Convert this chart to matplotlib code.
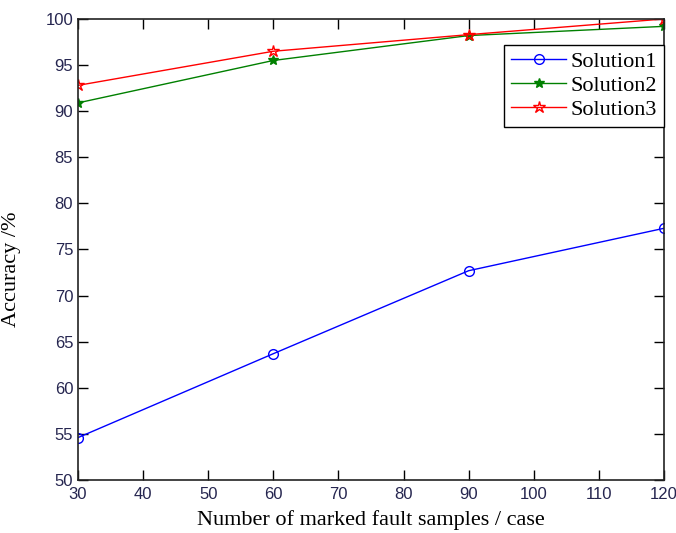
import matplotlib
matplotlib.use("Agg")
import matplotlib.pyplot as plt

samples = [30, 60, 90, 120]
solution1 = [54.6, 63.7, 72.7, 77.3]
solution2 = [90.9, 95.5, 98.2, 99.2]
solution3 = [92.8, 96.5, 98.3, 100.0]

x_ticks = [30, 40, 50, 60, 70, 80, 90, 100, 110, 120]
y_ticks = [50, 55, 60, 65, 70, 75, 80, 85, 90, 95, 100]

fig = plt.figure(figsize=(6.76, 5.33), dpi=100)
fig.patch.set_facecolor("white")
ax = fig.add_axes([0.1154, 0.0994, 0.8668, 0.8650])

ax.plot(samples, solution1, color="blue", marker="o", markersize=7,
        markerfacecolor="none", markeredgecolor="blue", linewidth=1.0, label="Solution1")
ax.plot(samples, solution2, color="green", marker="*", markersize=7,
        markerfacecolor="green", markeredgecolor="green", linewidth=1.0, label="Solution2")
ax.plot(samples, solution3, color="red", marker="*", markersize=9,
        markerfacecolor="none", markeredgecolor="red", linewidth=1.0, label="Solution3")

ax.set_xlim(30, 120)
ax.set_ylim(50, 100)
ax.set_xticks(x_ticks)
ax.set_yticks(y_ticks)
ax.tick_params(direction="in", top=True, right=True, length=7, width=1,
               labelsize=12, colors="black", labelcolor="#262650")
ax.tick_params(axis="x", pad=5)
for lbl in ax.get_xticklabels() + ax.get_yticklabels():
    lbl.set_family("Liberation Sans")
for sp in ax.spines.values():
    sp.set_linewidth(1.2)
    sp.set_color("#222222")

ax.set_xlabel("Number of marked fault samples / case", family="Liberation Serif",
              fontsize=16, labelpad=6)
ax.set_ylabel("Accuracy /%", family="Liberation Serif", fontsize=16, labelpad=8)
ax.yaxis.set_label_coords(-0.098, 0.458)

leg = ax.legend(loc="upper right", bbox_to_anchor=(1.0, 0.9436), borderaxespad=0,
                prop={"family": "Liberation Serif", "size": 16}, fancybox=False,
                edgecolor="black", framealpha=1, handlelength=2.5, handletextpad=0.2,
                labelspacing=0.15, borderpad=0.3)
leg.get_frame().set_linewidth(1.0)

fig.savefig("out.png", dpi=100)
